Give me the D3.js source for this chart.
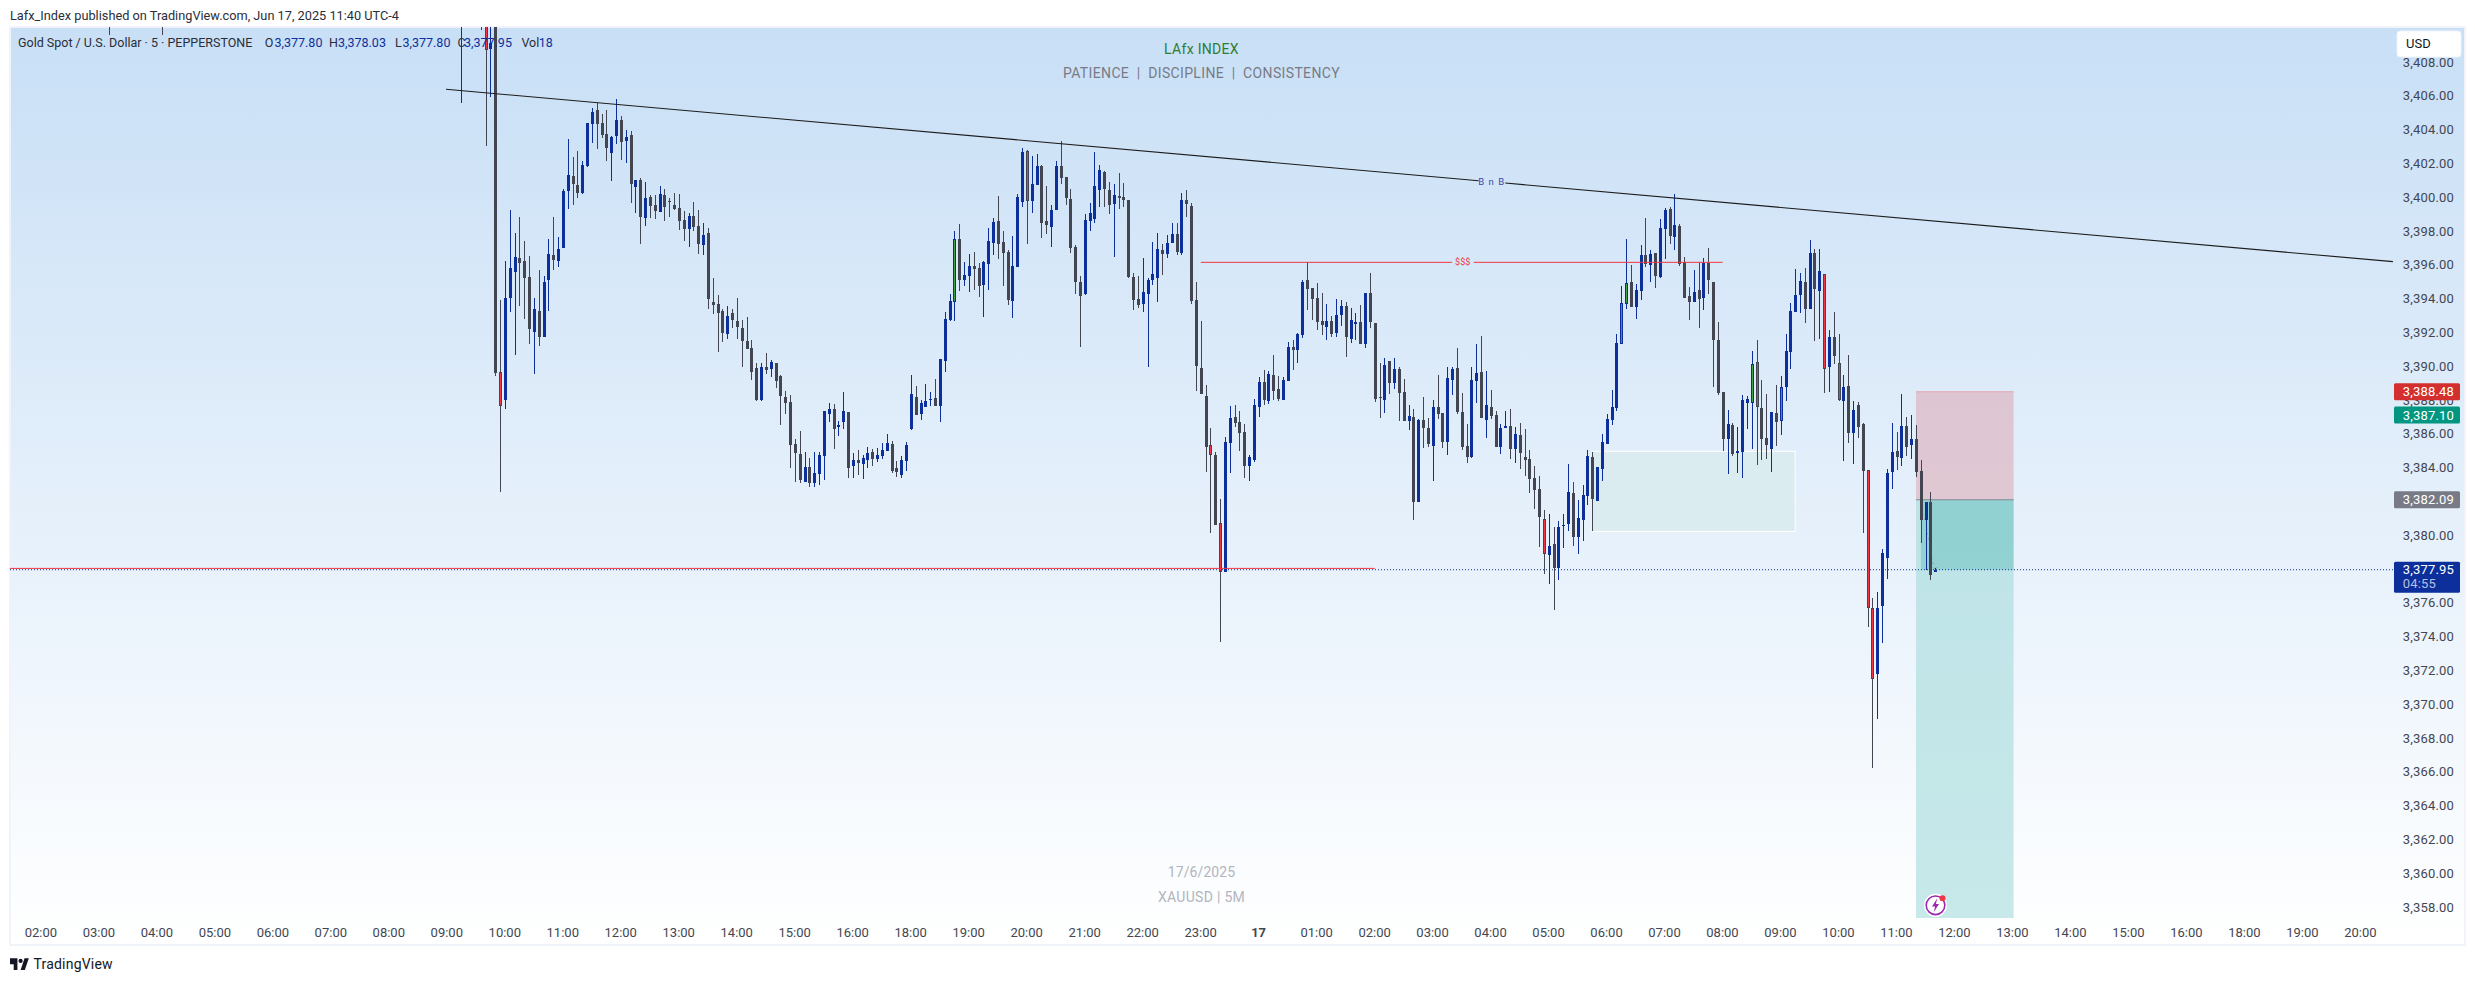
<!DOCTYPE html>
<html><head><meta charset="utf-8">
<script src="https://cdn.jsdelivr.net/npm/d3@7/dist/d3.min.js"></script>
<style>html,body{margin:0;padding:0;background:#fff}svg{display:block}text{font-family:Roboto,"Liberation Sans",sans-serif}</style>
</head><body><svg id="c" width="2475" height="981"></svg>
<script>
const firstBar = 94;
const opens = [
3414,3389.63,3388.01,3394.05,3395.58,3396.39,3396.22,3395.27,3392.02,3393.26,
3391.72,3395.09,3396.57,3396.22,3396.99,3400.36,3401.25,3400.71,3400.22,3401.84,
3404.32,3405.15,3404.38,3403.73,3402.61,3403.61,3404.56,3403.32,3403.67,3400.60,
3401.01,3398.76,3400.00,3399.53,3399.12,3400.12,3399.75,3399.53,3399.35,3398.64,
3398.11,3398.88,3398.29,3397.16,3397.87,3393.79,3393.67,3393.26,3391.90,3393.14,
3392.67,3392.25,3391.48,3391.07,3389.89,3387.99,3389.95,3389.83,3390.18,3389.41,
3388.17,3387.87,3385.39,3384.80,3383.14,3384.03,3383.08,3383.61,3384.68,3387.16,
3387.46,3386.40,3386.69,3387.28,3384.09,3384.44,3384.21,3384.44,3384.92,3384.50,
3384.68,3384.97,3385.39,3383.97,3383.56,3384.38,3386.28,3388.17,3387.16,3387.58,
3388.00,3388.11,3387.64,3390.31,3392.73,3393.80,3397.53,3395.10,3395.34,3395.93,
3395.81,3394.80,3396.05,3397.29,3398.59,3397.35,3396.76,3393.86,3395.87,3399.71,
3402.73,3399.77,3400.72,3401.84,3398.59,3398.23,3399.24,3401.84,3401.19,3399.89,
3397.05,3394.98,3394.27,3398.59,3398.71,3400.42,3401.49,3400.42,3399.60,3400.07,
3400.01,3399.83,3395.28,3393.98,3393.68,3394.27,3395.10,3395.22,3396.87,3396.64,
3397.29,3397.82,3396.70,3399.83,3399.48,3393.92,3389.89,3388.23,3385.33,3384.74,
3380.71,3377.82,3385.45,3386.99,3386.69,3386.10,3384.09,3384.44,3387.58,3389.06,
3387.93,3389.47,3388.64,3388.00,3389.12,3391.13,3390.95,3391.85,3395.10,3394.63,
3394.04,3392.67,3392.32,3392.67,3391.96,3393.03,3393.56,3391.61,3392.50,3392.61,
3391.31,3394.33,3392.55,3388.17,3388.00,3390.31,3389.00,3389.83,3388.47,3386.76,
3386.99,3381.96,3386.81,3386.34,3385.27,3387.58,3387.22,3385.51,3389.18,3389.89,
3387.28,3385.27,3384.62,3389.12,3389.65,3386.81,3387.58,3387.11,3385.21,3386.34,
3386.46,3385.09,3385.92,3384.62,3384.50,3383.38,3382.73,3380.95,3378.82,3379.47,
3378.05,3380.54,3380.66,3382.49,3379.89,3380.89,3382.31,3384.62,3382.02,3383.91,
3385.39,3386.81,3387.52,3391.32,3393.67,3394.97,3393.49,3394.44,3396.57,3395.98,
3396.69,3395.27,3398.11,3399.29,3397.64,3398.29,3396.16,3394.14,3393.79,3394.50,
3394.03,3396.10,3394.97,3391.54,3388.46,3385.68,3386.51,3384.85,3384.91,3387.81,
3387.81,3390.24,3387.52,3385.74,3385.09,3387.22,3386.75,3388.76,3390.83,3393.20,
3394.20,3394.97,3393.38,3396.69,3394.44,3395.45,3389.94,3391.72,3390.18,3387.93,
3388.82,3386.04,3387.69,3386.57,3383.83,3375.68,3371.78,3375.80,3378.64,3383.73,
3384.97,3384.56,3386.45,3385.33,3385.68,3383.79,3380.89,3381.95,3377.80];
const closes = [
3389.61,3387.66,3394.03,3395.80,3396.45,3396.12,3395.21,3392.19,3393.38,3391.72,
3394.97,3396.63,3396.28,3396.93,3400.36,3401.31,3400.77,3400.24,3401.90,3404.38,
3405.03,3404.32,3403.67,3402.90,3403.55,3404.56,3403.26,3403.55,3400.77,3401.01,
3398.82,3399.94,3399.47,3399.18,3400.18,3399.41,3399.70,3399.29,3398.58,3398.11,
3398.88,3398.23,3397.22,3397.75,3393.97,3393.61,3393.14,3391.96,3392.96,3392.73,
3392.31,3391.48,3391.01,3389.65,3387.99,3389.95,3389.77,3390.24,3389.14,3388.25,
3387.82,3385.35,3384.86,3383.26,3384.03,3383.08,3383.67,3384.74,3387.34,3387.46,
3386.28,3386.51,3387.34,3383.97,3384.44,3384.27,3384.56,3384.86,3384.50,3384.74,
3385.03,3385.45,3383.79,3383.73,3384.44,3385.33,3388.35,3387.11,3387.82,3387.93,
3388.05,3387.64,3390.42,3392.79,3393.86,3397.53,3395.10,3395.39,3395.93,3395.75,
3394.74,3396.16,3397.41,3398.53,3397.23,3396.70,3393.92,3395.93,3400.01,3402.67,
3399.77,3400.78,3401.84,3398.47,3398.35,3399.24,3401.84,3401.13,3399.95,3396.99,
3394.98,3394.15,3398.65,3399.06,3400.66,3401.61,3400.48,3399.54,3400.13,3399.95,
3399.83,3395.28,3393.92,3393.62,3394.39,3395.10,3395.45,3396.93,3396.64,3397.29,
3397.82,3396.76,3399.83,3399.60,3393.86,3390.01,3388.35,3385.21,3384.74,3380.60,
3377.82,3385.51,3386.93,3386.63,3386.04,3384.09,3384.62,3387.70,3389.06,3388.00,
3389.53,3388.53,3388.05,3389.18,3391.13,3390.95,3391.90,3394.98,3394.57,3393.98,
3392.61,3392.44,3392.67,3391.90,3393.03,3393.56,3391.73,3392.73,3392.61,3391.31,
3394.33,3392.61,3388.06,3388.13,3390.07,3389.00,3389.83,3388.41,3386.76,3387.05,
3381.96,3386.81,3386.34,3385.39,3387.58,3387.16,3385.51,3389.29,3389.83,3387.28,
3385.21,3384.62,3389.18,3389.59,3386.93,3387.70,3387.05,3385.21,3386.34,3386.46,
3385.09,3385.98,3384.86,3384.44,3383.32,3382.67,3381.07,3378.88,3379.35,3378.05,
3380.48,3380.60,3382.55,3379.89,3381.01,3382.37,3384.68,3382.14,3384.03,3385.51,
3386.87,3387.58,3391.37,3393.71,3394.89,3393.49,3394.50,3396.57,3396.04,3396.63,
3395.33,3398.17,3399.23,3397.69,3398.35,3396.04,3394.03,3393.79,3394.38,3393.97,
3396.10,3395.09,3391.54,3388.40,3385.68,3386.57,3384.80,3384.97,3387.99,3388.05,
3390.12,3387.58,3385.68,3385.33,3387.28,3386.69,3388.76,3390.89,3393.26,3394.20,
3395.03,3393.38,3396.69,3394.56,3395.62,3389.82,3391.72,3390.59,3387.99,3388.76,
3386.04,3387.40,3386.39,3383.79,3375.68,3371.48,3375.68,3378.94,3383.67,3384.91,
3384.62,3386.45,3385.21,3385.68,3383.73,3380.89,3381.95,3377.63,3377.95];
const highs = [
3416,3393.91,3396.22,3399.23,3397.87,3398.82,3397.40,3396.51,3394.03,3395.68,
3395.33,3397.52,3398.82,3397.64,3400.48,3403.44,3402.37,3402.73,3402.13,3404.38,
3405.27,3405.57,3404.91,3405.15,3403.61,3405.80,3404.80,3403.97,3403.91,3401.01,
3401.13,3400.89,3400.12,3400.12,3400.65,3400.48,3399.95,3400.24,3400.18,3399.18,
3399.06,3399.71,3399.23,3398.47,3398.17,3395.21,3394.20,3393.38,3393.55,3393.38,
3394.03,3392.73,3392.90,3391.54,3390.18,3390.18,3390.77,3390.36,3390.18,3389.47,
3388.53,3388.29,3385.69,3386.16,3384.92,3384.56,3384.92,3384.92,3387.34,3387.82,
3387.76,3386.75,3388.47,3387.28,3384.86,3385.03,3384.74,3385.21,3385.09,3385.15,
3385.45,3385.98,3385.57,3384.38,3384.68,3385.51,3389.47,3388.82,3388.00,3388.94,
3388.47,3389.24,3390.42,3393.21,3394.27,3398.00,3398.41,3396.16,3396.64,3396.76,
3396.11,3396.22,3398.18,3398.77,3400.07,3398.00,3396.87,3397.70,3400.19,3402.91,
3402.79,3402.44,3402.55,3401.90,3400.66,3399.54,3402.14,3403.32,3401.19,3400.48,
3397.17,3395.34,3399.00,3399.66,3402.67,3401.90,3401.55,3400.90,3400.78,3401.43,
3400.84,3399.83,3395.51,3395.34,3396.40,3395.22,3397.35,3397.88,3397.23,3397.76,
3398.47,3398.47,3400.25,3400.42,3399.66,3394.98,3392.67,3388.88,3386.34,3384.92,
3382.13,3385.80,3387.64,3387.70,3387.34,3386.57,3384.74,3388.05,3389.35,3389.77,
3389.71,3390.66,3389.41,3389.35,3391.42,3391.54,3391.96,3395.10,3396.16,3394.63,
3394.92,3394.33,3393.68,3392.97,3393.97,3393.92,3393.80,3393.44,3393.15,3393.62,
3394.33,3395.51,3392.55,3390.19,3390.48,3390.31,3390.48,3389.95,3389.24,3387.70,
3387.46,3386.87,3388.17,3386.93,3388.00,3389.47,3387.22,3389.95,3389.95,3391.07,
3388.41,3386.57,3389.95,3391.31,3391.78,3389.71,3388.58,3387.34,3386.57,3387.34,
3387.46,3386.39,3386.63,3386.28,3385.03,3384.09,3383.50,3381.48,3381.25,3380.48,
3380.83,3381.25,3384.21,3383.14,3382.08,3382.96,3385.03,3384.92,3384.03,3385.98,
3387.16,3388.58,3391.90,3394.74,3397.52,3395.98,3394.85,3397.16,3398.76,3396.87,
3396.69,3398.70,3399.35,3399.41,3400.18,3398.40,3396.45,3394.68,3395.68,3396.16,
3396.39,3396.98,3394.97,3392.61,3388.46,3387.40,3386.63,3386.39,3388.29,3388.23,
3390.89,3391.54,3389.17,3388.35,3387.28,3388.88,3389.41,3391.90,3393.73,3395.74,
3395.51,3395.80,3397.46,3396.93,3396.93,3395.45,3392.13,3393.20,3391.90,3389.47,
3390.65,3387.93,3387.87,3386.63,3383.83,3376.27,3376.63,3379.17,3383.91,3386.63,
3386.10,3388.35,3386.98,3387.10,3386.51,3384.44,3381.95,3382.55,3378.03];
const lows = [
3389.43,3382.57,3387.48,3393.22,3390.67,3393.55,3392.80,3391.31,3389.55,3391.19,
3391.72,3393.26,3395.68,3395.86,3396.99,3399.29,3399.53,3399.94,3400.16,3401.78,
3403.20,3402.84,3403.49,3402.13,3400.95,3403.14,3402.19,3402.02,3399.65,3399.06,
3397.22,3398.29,3398.76,3398.70,3399.12,3398.58,3398.82,3399.23,3398.05,3397.40,
3397.04,3397.99,3396.63,3396.57,3393.38,3393.08,3390.83,3391.42,3391.60,3392.25,
3391.60,3389.94,3391.01,3389.17,3387.95,3387.95,3389.53,3389.35,3388.72,3386.53,
3387.18,3383.99,3383.14,3383.08,3383.14,3382.85,3382.85,3382.96,3383.26,3386.69,
3385.09,3385.86,3386.28,3383.38,3383.38,3383.56,3383.32,3383.97,3384.09,3384.32,
3384.50,3384.97,3383.67,3383.44,3383.38,3383.79,3386.22,3387.11,3386.81,3387.58,
3387.64,3387.64,3386.69,3389.66,3392.67,3392.67,3394.45,3394.74,3394.39,3394.51,
3394.09,3392.91,3394.51,3396.58,3396.34,3394.74,3393.62,3392.85,3395.87,3399.42,
3397.23,3399.06,3400.72,3397.58,3397.82,3397.05,3399.24,3400.78,3399.54,3396.70,
3394.27,3391.13,3394.21,3398.00,3398.47,3399.42,3399.42,3399.00,3396.46,3399.30,
3399.42,3395.22,3393.32,3393.44,3393.21,3389.95,3394.80,3393.80,3395.39,3396.40,
3397.29,3396.58,3396.58,3398.83,3393.68,3388.53,3388.35,3383.73,3380.12,3380.60,
3373.70,3377.82,3383.67,3386.39,3384.97,3383.38,3383.20,3384.32,3386.99,3387.70,
3387.76,3388.00,3387.93,3388.00,3389.12,3389.77,3390.18,3391.67,3393.32,3392.73,
3392.14,3391.84,3391.55,3391.73,3391.73,3392.38,3390.54,3391.37,3391.55,3391.31,
3391.08,3392.26,3387.88,3386.93,3387.23,3388.35,3388.65,3386.76,3386.76,3386.22,
3380.89,3381.96,3385.15,3385.21,3383.20,3386.87,3385.15,3384.74,3388.29,3387.16,
3385.03,3384.27,3384.56,3387.82,3386.93,3385.74,3386.87,3385.21,3384.80,3386.34,
3384.50,3384.27,3383.91,3383.50,3382.49,3381.54,3379.29,3377.70,3377.11,3375.57,
3377.34,3379.24,3380.24,3379.35,3378.88,3379.65,3381.78,3380.24,3382.02,3383.20,
3385.39,3386.51,3387.34,3391.32,3393.38,3393.49,3392.78,3393.91,3395.86,3394.97,
3394.62,3395.21,3396.33,3397.22,3396.87,3395.92,3394.03,3392.72,3393.79,3392.25,
3393.32,3394.26,3388.76,3388.29,3384.97,3383.61,3384.68,3383.67,3383.38,3386.27,
3385.09,3384.14,3384.44,3384.50,3383.73,3385.27,3385.92,3387.93,3389.82,3393.20,
3393.14,3392.55,3393.38,3391.48,3391.60,3388.40,3388.46,3390.12,3387.93,3384.38,
3385.45,3384.20,3385.74,3380.12,3374.56,3366.22,3369.11,3373.61,3377.40,3382.72,
3383.85,3384.08,3384.68,3384.50,3383.43,3379.53,3377.91,3377.34,3377.80];

// bars that sit mostly above the visible pane
const earlyIdx   = [14,25,87,91,92,93];
const earlyOpen  = [3420,3420,3412,3422,3416,3408.74];
const earlyClose = [3415,3415,3416,3416,3408.70,3409.10];
const earlyHigh  = [3422,3422,3418,3423,3420,3414];
const earlyLow   = [3409.59,3409.59,3405.58,3409.90,3403.02,3405.94];

const redBars   = [92,95,204,242,244,311,355,369,372,378,379];
const greenBars = [189,327,328,354,360];

const priceTicks = d3.range(3358,3409,2);
const timeIdx = d3.range(0,169,12).concat(d3.range(180,481,12));
const timeLabels = ["02:00","03:00","04:00","05:00","06:00","07:00","08:00","09:00","10:00","11:00","12:00","13:00","14:00","15:00","16:00","18:00","19:00","20:00","21:00","22:00","23:00","17","01:00","02:00","03:00","04:00","05:00","06:00","07:00","08:00","09:00","10:00","11:00","12:00","13:00","14:00","15:00","16:00","18:00","19:00","20:00"];

const trendIdx = [83.8,486.7], trendPrice = [3406.38,3396.18];
const liquidityPrice = 3396.14, liquidityIdx = [240,348];
const supportPrice = 3378.03, supportEnd = 276;
const zonePrices = [3384.96,3380.22], zoneIdx = [321,363];
const stopPrice = 3388.48, entryPrice = 3382.09, targetFloor = 3357.3, lastPrice = 3377.95;
const positionIdx = [388,408.2], fillStart = 389;
const ghostIdx = [389.4,390.1,390.4,390.9,391.3,391.9,392.7];
const ghostPrice = [3381.28,3380.69,3380.0,3379.41,3378.62,3377.93,3378.23];

const UP="#0d2f9b", DOWN="#434651";
const bars = earlyIdx.map((id,k)=>({id,o:earlyOpen[k],h:earlyHigh[k],l:earlyLow[k],c:earlyClose[k]}))
 .concat(opens.map((o,k)=>({id:firstBar+k,o,h:highs[k],l:lows[k],c:closes[k]})));

const x = d3.scaleLinear().domain([94,392]).range([495.3,1935.3]);
const y = d3.scaleLinear().domain([3396,3376]).range([264.7,602.7]);

const svg = d3.select("#c");
const defs = svg.append("defs");
const g = defs.append("linearGradient").attr("id","bg").attr("x1",0).attr("y1",0).attr("x2",0).attr("y2",1);
g.append("stop").attr("offset","0%").attr("stop-color","#c8dff6");
g.append("stop").attr("offset","100%").attr("stop-color","#ffffff");
defs.append("clipPath").attr("id","pane").append("rect").attr("x",10).attr("y",27).attr("width",2384).attr("height",891);

svg.append("rect").attr("x",10).attr("y",27).attr("width",2455).attr("height",918).attr("fill","url(#bg)").attr("stroke","#f0f3fa").attr("stroke-width",2);

svg.append("text").attr("x",10).attr("y",16).attr("dy",".35em").attr("font-size",12.75).attr("fill","#2a2e39")
  .text("Lafx_Index published on TradingView.com, Jun 17, 2025 11:40 UTC-4");

// watermark
const wm=[["LAfx INDEX",49,"#2e7d32",14,0.3],["PATIENCE  |  DISCIPLINE  |  CONSISTENCY",72.6,"#787b86",14,0.35],["17/6/2025",872,"#b2b5be",14,0.1],["XAUUSD | 5M",897,"#b2b5be",14,0.3]];
svg.selectAll("text.wm").data(wm).join("text").attr("class","wm").attr("x",1201.5).attr("y",d=>d[1]).attr("dy",".35em")
  .attr("text-anchor","middle").attr("font-size",d=>d[3]).attr("letter-spacing",d=>d[4]).attr("fill",d=>d[2]).attr("xml:space","preserve").style("white-space","pre").text(d=>d[0]);

const pane = svg.append("g").attr("clip-path","url(#pane)");

// green zone
pane.append("rect").attr("x",x(zoneIdx[0])).attr("y",y(zonePrices[0])).attr("width",x(zoneIdx[1])-x(zoneIdx[0])).attr("height",y(zonePrices[1])-y(zonePrices[0]))
  .attr("fill","#daecef").attr("stroke","#fff").attr("stroke-width",1);

// position tool
const px0=x(positionIdx[0]), px1=x(positionIdx[1]);
pane.append("rect").attr("x",px0).attr("y",y(stopPrice)).attr("width",px1-px0).attr("height",y(entryPrice)-y(stopPrice)).attr("fill","rgba(220,173,183,.6)");
pane.append("line").attr("x1",px0).attr("x2",px1).attr("y1",y(stopPrice)).attr("y2",y(stopPrice)).attr("stroke","#e3a5ad");
pane.append("rect").attr("x",px0).attr("y",y(entryPrice)).attr("width",px1-px0).attr("height",y(targetFloor)-y(entryPrice)).attr("fill","rgba(164,219,219,.6)");
pane.append("rect").attr("x",x(fillStart)).attr("y",y(entryPrice)).attr("width",px1-x(fillStart)).attr("height",y(lastPrice)-y(entryPrice)).attr("fill","rgba(48,168,161,.3)");
pane.append("line").attr("x1",px0).attr("x2",px1).attr("y1",y(entryPrice)).attr("y2",y(entryPrice)).attr("stroke","#7f8691").attr("stroke-width",1);

// ghost feed
pane.append("path").attr("d",d3.line().x((d,i)=>x(ghostIdx[i])).y(d=>y(d))(ghostPrice)).attr("fill","none").attr("stroke","#9aa0a8").attr("stroke-width",1).attr("stroke-dasharray","2 3");

// last price dotted
pane.append("line").attr("x1",10).attr("x2",2394).attr("y1",y(lastPrice)).attr("y2",y(lastPrice)).attr("stroke",UP).attr("stroke-width",1).attr("stroke-dasharray","1 2");

// candles
const cg = pane.append("g").attr("shape-rendering","crispEdges");
const color = d=>d.c>=d.o?UP:DOWN;
cg.selectAll("rect.w").data(bars).join("rect").attr("class","w")
  .attr("x",d=>Math.round(x(d.id))).attr("width",1)
  .attr("y",d=>y(d.h)).attr("height",d=>y(d.l)-y(d.h)).attr("fill",color);
cg.selectAll("rect.b").data(bars).join("rect").attr("class","b")
  .attr("x",d=>Math.round(x(d.id))-1).attr("width",3)
  .attr("y",d=>y(Math.max(d.o,d.c))).attr("height",d=>Math.max(1,y(Math.min(d.o,d.c))-y(Math.max(d.o,d.c)))).attr("fill",color);
const accent = bars.filter(d=>redBars.includes(d.id)||greenBars.includes(d.id));
cg.selectAll("rect.a").data(accent).join("rect").attr("class","a")
  .attr("x",d=>Math.round(x(d.id))).attr("width",1)
  .attr("y",d=>y(Math.max(d.o,d.c))+1).attr("height",d=>y(Math.min(d.o,d.c))-y(Math.max(d.o,d.c))-2)
  .attr("fill",d=>redBars.includes(d.id)?"#f23645":"#43a047");

// drawings
pane.append("line").attr("x1",10).attr("x2",x(supportEnd)).attr("y1",y(supportPrice)).attr("y2",y(supportPrice)).attr("stroke","#f23645").attr("stroke-width",1);
[[liquidityIdx[0],292],[296.5,liquidityIdx[1]]].forEach(s=>pane.append("line").attr("x1",x(s[0])).attr("x2",x(s[1])).attr("y1",y(liquidityPrice)).attr("y2",y(liquidityPrice)).attr("stroke","#f23645").attr("stroke-width",1));
pane.append("text").attr("x",x(294.2)).attr("y",y(liquidityPrice)).attr("dy",".35em").attr("text-anchor","middle").attr("font-size",9).attr("fill","#f23645").text("$$$");
const trend = d3.scaleLinear().domain(trendIdx).range(trendPrice);
[[trendIdx[0],297.5],[303,trendIdx[1]]].forEach(s=>pane.append("line").attr("x1",x(s[0])).attr("x2",x(s[1])).attr("y1",y(trend(s[0]))).attr("y2",y(trend(s[1]))).attr("stroke","#1c1c1c").attr("stroke-width",1.1));
pane.append("text").attr("x",x(300.2)).attr("y",y(trend(300.2))).attr("dy",".35em").attr("text-anchor","middle").attr("font-size",9.5).attr("letter-spacing",1).attr("fill","#3949ab").text("B n B");

// legend
const lg = svg.append("g").attr("font-size",12.5);
const legend=[["Gold Spot / U.S. Dollar · 5 · PEPPERSTONE",18,"#2a2e39"],["O",264.8,"#2a2e39"],["3,377.80",274.5,UP],["H",329,"#2a2e39"],["3,378.03",338,UP],["L",395,"#2a2e39"],["3,377.80",402.5,UP],["C",457.6,"#2a2e39"],["3,377.95",464,UP],["Vol",521.4,"#2a2e39"],["18",538.8,UP]];
lg.selectAll("text").data(legend).join("text").attr("x",d=>d[1]).attr("y",42.7).attr("dy",".35em").attr("fill",d=>d[2]).text(d=>d[0]);

// price axis
const ya = d3.axisRight(y).tickValues(priceTicks).tickSize(0).tickPadding(0).tickFormat(d3.format(",.2f"));
const yg = svg.append("g").attr("transform","translate(2402.7,0)").call(ya);
yg.select(".domain").remove();
yg.selectAll("text").attr("font-size",13).attr("fill","#434651").attr("letter-spacing",0.2).style("font-family","Roboto,sans-serif");

// time axis
const xa = d3.axisBottom(x).tickValues(timeIdx).tickSize(0).tickPadding(0).tickFormat((d,i)=>timeLabels[i]);
const xg = svg.append("g").attr("transform","translate(-0.7,932.7)").call(xa);
xg.select(".domain").remove();
xg.selectAll("text").attr("y",0).attr("dy",".35em").attr("font-size",13).attr("fill","#434651").style("font-family","Roboto,sans-serif")
  .attr("font-weight",(d,i)=>timeLabels[i]==="17"?700:400);

// price tags
const tags=[[stopPrice,"#d32f2f"],[3387.10,"#00967f"],[entryPrice,"#787b86"]];
const fmt=d3.format(",.2f");
tags.forEach(t=>{
  const cy=y(t[0]);
  svg.append("rect").attr("x",2394).attr("y",cy-8.5).attr("width",66).attr("height",17).attr("rx",1.5).attr("fill",t[1]);
  svg.append("text").attr("x",2402.7).attr("y",cy).attr("dy",".35em").attr("font-size",13).attr("letter-spacing",0.2).attr("fill","#fff").text(fmt(t[0]));
});
const ly=y(lastPrice);
svg.append("rect").attr("x",2394).attr("y",ly-8).attr("width",66).attr("height",31).attr("rx",1.5).attr("fill",UP);
svg.append("text").attr("x",2402.7).attr("y",ly).attr("dy",".35em").attr("font-size",13).attr("letter-spacing",0.2).attr("fill","#fff").text(fmt(lastPrice));
svg.append("text").attr("x",2402.7).attr("y",ly+13.5).attr("dy",".35em").attr("font-size",13).attr("letter-spacing",0.2).attr("fill","#b4bfe3").text("04:55");

// currency button
svg.append("rect").attr("x",2397).attr("y",31).attr("width",64).attr("height",26).attr("rx",3).attr("fill","#fff").attr("stroke","#f0f3fa");
svg.append("text").attr("x",2406).attr("y",43.5).attr("dy",".35em").attr("font-size",13).attr("fill","#131722").text("USD");

// alert icon
const ic = svg.append("g").attr("transform","translate(1935.5,905.3)");
ic.append("circle").attr("r",11.5).attr("fill","#fff");
ic.append("circle").attr("r",9.3).attr("fill","#fff").attr("stroke","#9c27b0").attr("stroke-width",1.6);
ic.append("path").attr("d","M1.8 -7 L-3.5 1.2 L-0.4 1.2 L-1.8 7 L3.5 -1.2 L0.4 -1.2 Z").attr("fill","#9c27b0");
ic.append("circle").attr("cx",7).attr("cy",-7).attr("r",3).attr("fill","#f23645");

// footer
const logo = svg.append("g").attr("transform","translate(10,958.3) scale(0.53)").attr("fill","#131722");
logo.append("path").attr("d","M14 22H7V11H0V0h14v22zM28 22h-8l7.5-22h8L28 22z");
logo.append("circle").attr("cx",20).attr("cy",5).attr("r",4);
svg.append("text").attr("x",33.5).attr("y",964).attr("dy",".35em").attr("font-size",14).attr("font-weight",400).attr("letter-spacing",0.2).attr("fill","#131722").text("TradingView");
</script></body></html>
